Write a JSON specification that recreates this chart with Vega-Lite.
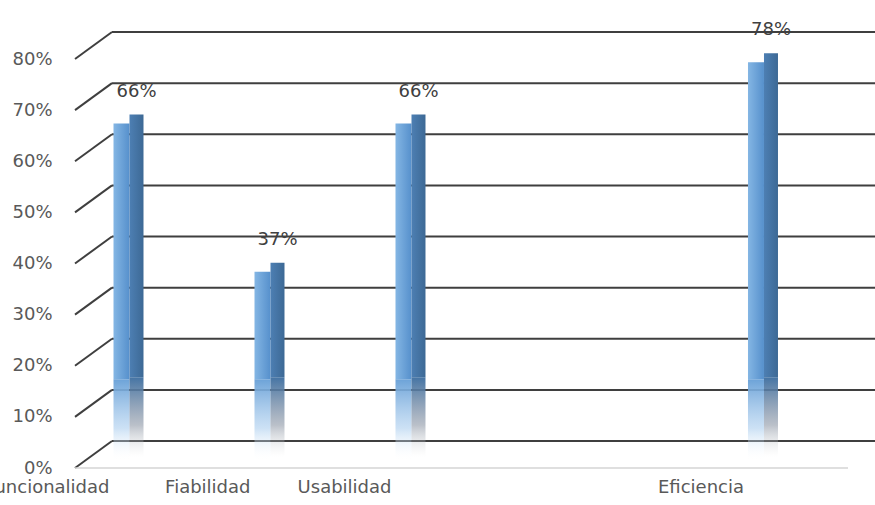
{
  "$schema": "https://vega.github.io/schema/vega-lite/v6.json",
  "width": 763,
  "height": 409,
  "autosize": {"type": "none"},
  "padding": {"left": 112, "top": 32, "right": 0, "bottom": 64},
  "background": "white",
  "config": {"view": {"stroke": null}, "font": "DejaVu Sans", "text": {"font": "DejaVu Sans"}},
  "datasets": {
    "scores": [
      {"aspecto": "Funcionalidad", "valor": 0.66},
      {"aspecto": "Fiabilidad", "valor": 0.37},
      {"aspecto": "Usabilidad", "valor": 0.66},
      {"aspecto": "Eficiencia", "valor": 0.78}
    ],
    "grid": [
      {"nivel": 0}, {"nivel": 0.1}, {"nivel": 0.2}, {"nivel": 0.3}, {"nivel": 0.4},
      {"nivel": 0.5}, {"nivel": 0.6}, {"nivel": 0.7}, {"nivel": 0.8}
    ]
  },
  "layer": [
    {
      "data": {"name": "grid"},
      "mark": {"type": "rule", "color": "#3f3f3f", "strokeWidth": 2},
      "encoding": {
        "y": {"field": "nivel", "type": "quantitative", "axis": {"title": null}}
      }
    },
    {
      "data": {"name": "grid"},
      "mark": {"type": "rule", "color": "#3f3f3f", "strokeWidth": 2, "xOffset": -46.5, "x2Offset": -9.5, "yOffset": 27, "y2Offset": 0},
      "encoding": {
        "x": {"datum": "Funcionalidad", "type": "nominal", "axis": {"title": null}},
        "x2": {"datum": "Funcionalidad"},
        "y": {"field": "nivel", "type": "quantitative", "axis": {"title": null}},
        "y2": {"field": "nivel"}
      }
    },
    {
      "data": {"name": "grid"},
      "transform": [{"filter": "datum.nivel === 0"}],
      "mark": {"type": "rule", "color": "#d4d4d4", "strokeWidth": 1.5, "xOffset": -46.5, "x2Offset": 92, "yOffset": 27, "y2Offset": 27},
      "encoding": {
        "x": {"datum": "Funcionalidad", "type": "nominal", "axis": {"title": null}},
        "x2": {"datum": "Eficiencia"},
        "y": {"field": "nivel", "type": "quantitative", "axis": {"title": null}},
        "y2": {"field": "nivel"}
      }
    },
    {
      "data": {"name": "scores"},
      "mark": {
        "type": "bar", "width": 16, "yOffset": 20, "y2Offset": 20,
        "color": {"gradient": "linear", "x1": 0, "y1": 0, "x2": 1, "y2": 0,
          "stops": [{"offset": 0, "color": "#84b6e4"}, {"offset": 1, "color": "#5690cc"}]}
      },
      "encoding": {
        "x": {
          "field": "aspecto", "type": "nominal",
          "scale": {
            "domain": ["Funcionalidad", "_1", "Fiabilidad", "_2", "Usabilidad", "_3", "_4", "_5", "_6", "Eficiencia"],
            "paddingInner": 0.8, "paddingOuter": 0.8115, "align": 0.0214
          },
          "axis": {
            "labelExpr": "indexof(datum.label, '_') === 0 ? '' : datum.label",
            "title": null, "ticks": false, "domain": false, "grid": false, "labelAngle": 0,
            "labelOffset": -12, "labelPadding": 46, "labelFontSize": 18, "labelColor": "#595959"
          }
        },
        "y": {
          "field": "valor", "type": "quantitative",
          "scale": {"domain": [0, 0.8], "nice": false},
          "axis": {
            "tickCount": 8, "format": ".0%", "title": null, "ticks": false, "domain": false, "grid": false,
            "labelOffset": 27, "labelPadding": 60, "labelFontSize": 18, "labelColor": "#595959"
          }
        },
        "y2": {"datum": 0.16}
      }
    },
    {
      "data": {"name": "scores"},
      "mark": {
        "type": "bar", "width": 16, "yOffset": 20, "y2Offset": 20,
        "color": {"gradient": "linear", "x1": 0, "y1": 0, "x2": 0, "y2": 1,
          "stops": [{"offset": 0, "color": "#6da3d8"}, {"offset": 0.6, "color": "rgba(170,205,238,0.6)"}, {"offset": 1, "color": "rgba(255,255,255,0)"}]}
      },
      "encoding": {
        "x": {"field": "aspecto", "type": "nominal", "axis": {"title": null}},
        "y": {"datum": 0.16, "type": "quantitative", "axis": {"title": null}},
        "y2": {"datum": 0}
      }
    },
    {
      "data": {"name": "scores"},
      "mark": {
        "type": "bar", "width": 14, "xOffset": 15, "yOffset": 11, "y2Offset": 18,
        "color": {"gradient": "linear", "x1": 0, "y1": 0, "x2": 1, "y2": 0,
          "stops": [{"offset": 0, "color": "#4d7fb3"}, {"offset": 1, "color": "#3d6995"}]}
      },
      "encoding": {
        "x": {"field": "aspecto", "type": "nominal", "axis": {"title": null}},
        "y": {"field": "valor", "type": "quantitative", "axis": {"title": null}},
        "y2": {"datum": 0.16}
      }
    },
    {
      "data": {"name": "scores"},
      "mark": {
        "type": "bar", "width": 14, "xOffset": 15, "yOffset": 18, "y2Offset": 16,
        "color": {"gradient": "linear", "x1": 0, "y1": 0, "x2": 0, "y2": 1,
          "stops": [{"offset": 0, "color": "#4574a4"}, {"offset": 0.6, "color": "rgba(140,150,165,0.6)"}, {"offset": 1, "color": "rgba(220,220,220,0)"}]}
      },
      "encoding": {
        "x": {"field": "aspecto", "type": "nominal", "axis": {"title": null}},
        "y": {"datum": 0.16, "type": "quantitative", "axis": {"title": null}},
        "y2": {"datum": 0}
      }
    },
    {
      "data": {"name": "scores"},
      "mark": {"type": "text", "xOffset": 15, "yOffset": -12, "baseline": "middle", "align": "center", "fontSize": 18, "color": "#404040"},
      "encoding": {
        "x": {"field": "aspecto", "type": "nominal", "axis": {"title": null}},
        "y": {"field": "valor", "type": "quantitative", "axis": {"title": null}},
        "text": {"field": "valor", "type": "quantitative", "format": ".0%"}
      }
    }
  ]
}
